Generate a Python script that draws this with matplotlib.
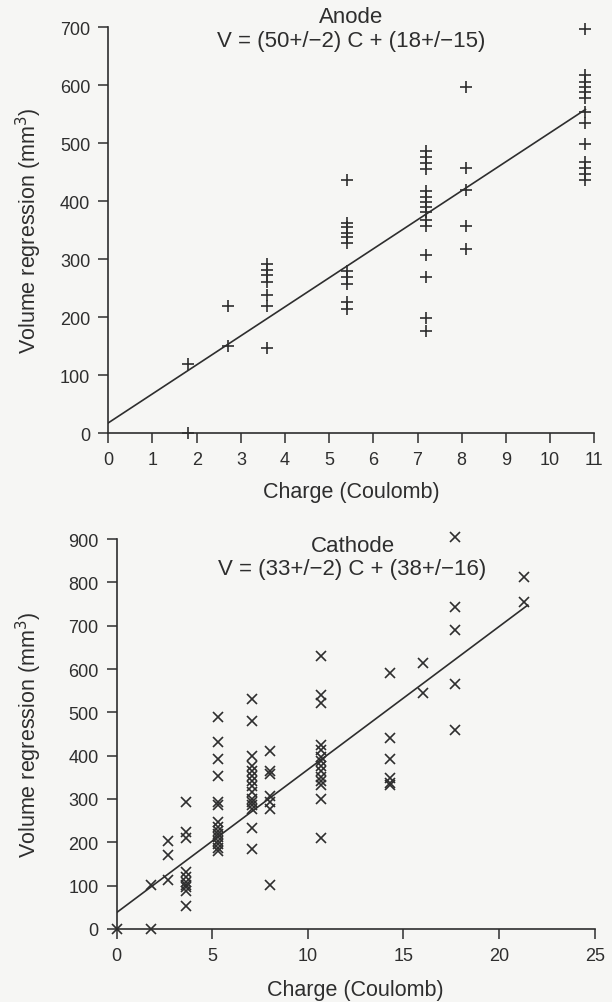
import matplotlib
matplotlib.use("Agg")
import matplotlib.pyplot as plt
import numpy as np

plt.rcParams["font.family"] = ["Liberation Sans", "DejaVu Sans"]

# Anode: charge (C) and volume regression (mm^3)
anode_charge = [1.8, 1.8,
                2.7, 2.7,
                3.6, 3.6, 3.6, 3.6, 3.6, 3.6, 3.6,
                5.4, 5.4, 5.4, 5.4, 5.4, 5.4, 5.4, 5.4, 5.4, 5.4, 5.4,
                7.2, 7.2, 7.2, 7.2, 7.2, 7.2, 7.2, 7.2, 7.2, 7.2, 7.2, 7.2, 7.2, 7.2, 7.2,
                8.1, 8.1, 8.1, 8.1, 8.1,
                10.8, 10.8, 10.8, 10.8, 10.8, 10.8, 10.8, 10.8, 10.8, 10.8, 10.8, 10.8, 10.8]
anode_volume = [0, 120,
                220, 150,
                292, 282, 272, 261, 238, 219, 147,
                437, 362, 355, 346, 338, 328, 280, 269, 257, 226, 215,
                487, 476, 465, 455, 417, 407, 398, 390, 381, 367, 357, 307, 269, 198, 177,
                597, 457, 420, 357, 318,
                696, 618, 605, 597, 588, 578, 554, 535, 498, 467, 457, 447, 436]
anode_slope, anode_intercept = 50, 18
anode_fit_range = [0, 10.8]

# Cathode
cathode_charge = [0,
                  1.8, 1.8,
                  2.7, 2.7, 2.7,
                  3.6, 3.6, 3.6, 3.6, 3.6, 3.6, 3.6, 3.6, 3.6, 3.6,
                  5.3, 5.3, 5.3, 5.3, 5.3, 5.3, 5.3, 5.3, 5.3, 5.3, 5.3, 5.3, 5.3, 5.3, 5.3,
                  7.1, 7.1, 7.1, 7.1, 7.1, 7.1, 7.1, 7.1, 7.1, 7.1, 7.1, 7.1, 7.1, 7.1, 7.1,
                  8.0, 8.0, 8.0, 8.0, 8.0, 8.0, 8.0,
                  10.7, 10.7, 10.7, 10.7, 10.7, 10.7, 10.7, 10.7, 10.7, 10.7, 10.7, 10.7, 10.7, 10.7,
                  14.3, 14.3, 14.3, 14.3, 14.3, 14.3,
                  16.0, 16.0,
                  17.7, 17.7, 17.7, 17.7, 17.7,
                  21.3, 21.3]
cathode_volume = [0,
                  0, 101,
                  202, 171, 112,
                  292, 223, 210, 131, 119, 108, 101, 96, 88, 52,
                  490, 432, 393, 354, 292, 285, 246, 235, 225, 219, 212, 204, 196, 188, 181,
                  530, 480, 400, 377, 365, 354, 342, 331, 315, 300, 292, 285, 277, 232, 185,
                  410, 365, 358, 308, 292, 277, 101,
                  630, 540, 522, 425, 412, 398, 388, 377, 365, 350, 342, 333, 300, 210,
                  590, 440, 392, 348, 338, 333,
                  615, 545,
                  905, 742, 690, 565, 460,
                  813, 755]
cathode_slope, cathode_intercept = 33, 38
cathode_fit_range = [0, 21.5]

anode_xticks = list(range(0, 12))
anode_yticks = list(range(0, 701, 100))
cathode_xticks = list(range(0, 26, 5))
cathode_yticks = list(range(0, 901, 100))

ink = "#2e2e2e"

fig = plt.figure(figsize=(6.12, 10.03), dpi=100)
fig.patch.set_facecolor("#f6f6f4")


def style(ax, xticks, yticks, ylab_x, xlab_y):
    ax.set_facecolor("none")
    for s in ["top", "right"]:
        ax.spines[s].set_visible(False)
    for s in ["left", "bottom"]:
        ax.spines[s].set_color(ink)
        ax.spines[s].set_linewidth(1.2)
    ax.set_xticks(xticks)
    ax.set_yticks(yticks)
    ax.tick_params(direction="out", length=7, width=1.1, colors=ink,
                   labelsize=13, pad=6)
    ax.set_xlabel("Charge (Coulomb)", fontsize=15.5, color=ink, va="top")
    ax.set_ylabel("Volume regression (mm$^3$)", fontsize=15.5, color=ink)
    ax.xaxis.set_label_coords(0.5, xlab_y)
    ax.yaxis.set_label_coords(ylab_x, 0.5)


# top: anode
ax1 = fig.add_axes([0.177, 0.567, 0.794, 0.405])
xs = np.array(anode_fit_range)
ax1.plot(xs, anode_slope * xs + anode_intercept, color=ink, lw=1.2)
ax1.plot(anode_charge, anode_volume, "+", color=ink, ms=9, mew=1.2, clip_on=False)
ax1.set_xlim(0, 11)
ax1.set_ylim(0, 700)
style(ax1, anode_xticks, anode_yticks, -0.132, -0.117)
ax1.text(0.5, 1.027, "Anode", transform=ax1.transAxes, ha="center", va="center",
         fontsize=16, color=ink)
ax1.text(0.5, 0.966, "V = (50+/\u22122) C + (18+/\u221215)", transform=ax1.transAxes,
         ha="center", va="center", fontsize=16, color=ink)

# bottom: cathode
ax2 = fig.add_axes([0.1907, 0.0728, 0.781, 0.3888])
xs = np.array(cathode_fit_range)
ax2.plot(xs, cathode_slope * xs + cathode_intercept, color=ink, lw=1.2)
ax2.plot(cathode_charge, cathode_volume, "x", color=ink, ms=7.5, mew=1.2, clip_on=False)
ax2.set_xlim(0, 25)
ax2.set_ylim(0, 900)
style(ax2, cathode_xticks, cathode_yticks, -0.152, -0.128)
ax2.text(12.35, 884, "Cathode", ha="center", va="center", fontsize=16, color=ink)
ax2.text(12.3, 833, "V = (33+/\u22122) C + (38+/\u221216)", ha="center", va="center",
         fontsize=16, color=ink)

fig.savefig("out.png", dpi=100, facecolor=fig.get_facecolor())
